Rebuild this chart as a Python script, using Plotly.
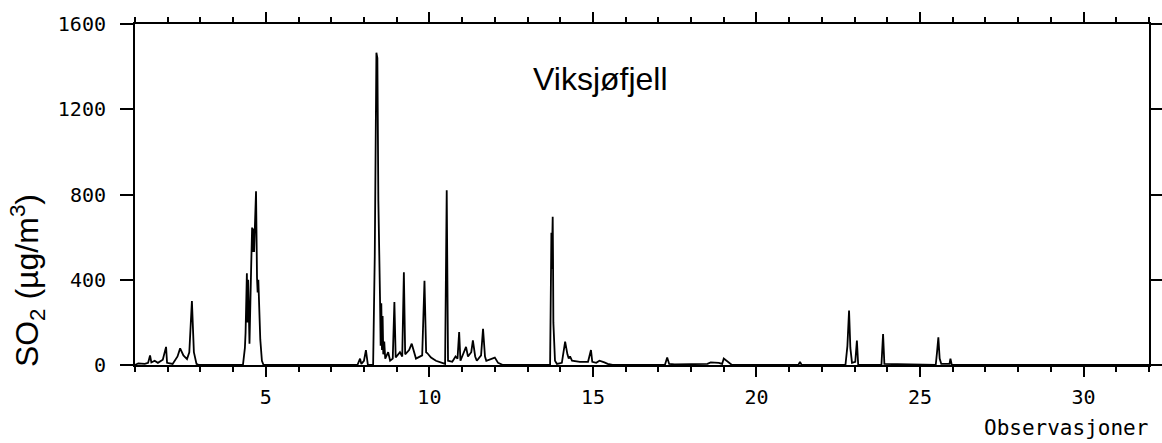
import plotly.graph_objects as go

observasjon = [
    1.00, 1.10, 1.30, 1.40, 1.46, 1.50, 1.60, 1.70, 1.85, 1.95, 1.98, 2.15,
    2.30, 2.38, 2.48, 2.59, 2.66, 2.74, 2.80, 2.88, 2.95,
    4.30, 4.36, 4.38, 4.42, 4.44, 4.46, 4.50, 4.55, 4.58, 4.60, 4.62, 4.64,
    4.67, 4.70, 4.73, 4.75, 4.77, 4.79, 4.83, 4.88, 4.93,
    7.80, 7.88, 7.92, 8.00, 8.06, 8.12, 8.28, 8.33, 8.38, 8.41, 8.44, 8.47,
    8.49, 8.51, 8.53, 8.55, 8.57, 8.59, 8.62, 8.65, 8.70, 8.74, 8.80, 8.88,
    8.93, 8.97, 9.10, 9.17, 9.22, 9.26, 9.38, 9.46, 9.59, 9.78, 9.85, 9.90,
    9.94, 10.05, 10.20, 10.35, 10.48, 10.53, 10.57, 10.70, 10.80, 10.86,
    10.91, 10.95, 11.00, 11.12, 11.18, 11.28, 11.33, 11.40, 11.45, 11.58,
    11.64, 11.70, 11.74, 11.90, 12.00, 12.10, 12.25,
    13.69, 13.71, 13.73, 13.74, 13.75, 13.76, 13.77, 13.78, 13.79, 13.84,
    13.90, 14.05, 14.15, 14.22, 14.26, 14.30, 14.36, 14.60, 14.85, 14.94,
    14.98, 15.10, 15.20, 15.35, 15.45, 15.60,
    17.20, 17.27, 17.33, 17.50, 18.50, 18.60, 18.85, 18.95, 19.00, 19.25,
    21.28, 21.33, 21.38,
    22.72, 22.78, 22.83, 22.87, 22.92, 23.02, 23.07, 23.11,
    23.82, 23.87, 23.91,
    25.48, 25.52, 25.56, 25.60, 25.65, 25.90, 25.93, 25.97, 32.00,
]
so2 = [
    0, 8, 5, 10, 45, 12, 20, 10, 25, 85, 10, 5,
    40, 78, 45, 28, 60, 300, 60, 5, 0,
    0, 80, 150, 430, 200, 400, 100, 450, 645, 530, 640, 530,
    650, 815, 410, 340, 400, 295, 120, 20, 0,
    0, 30, 5, 20, 70, 0, 0, 510, 1465, 1440, 770, 320,
    320, 90, 290, 70, 230, 50, 110, 30, 45, 60, 20, 30,
    295, 35, 60, 40, 435, 50, 70, 100, 30, 45, 395, 60,
    55, 35, 20, 10, 5, 820, 20, 15, 40, 30,
    155, 20, 40, 85, 40, 60, 115, 40, 20, 45,
    170, 40, 20, 30, 35, 10, 0,
    0, 200, 620, 450, 640, 520, 695, 500, 200, 20,
    5, 10, 110, 50, 30, 40, 20, 15, 15, 70,
    15, 10, 20, 12, 5, 0,
    0, 35, 5, 3, 5, 12, 10, 5, 30, 0,
    0, 15, 0,
    0, 90, 255, 80, 10, 15, 115, 0,
    0, 145, 5,
    0, 60, 130, 30, 5, 5, 30, 0, 0,
]

y_ticks = [0, 400, 800, 1200, 1600]
x_ticks = [5, 10, 15, 20, 25, 30]

tick_font = dict(family="DejaVu Sans Mono", size=20, color="black")

fig = go.Figure()
fig.add_trace(go.Scatter(x=observasjon, y=so2, mode="lines",
                         line=dict(color="black", width=1.8), showlegend=False))

fig.update_xaxes(range=[1, 32], tickvals=x_ticks, ticks="outside", ticklen=10,
                 tickwidth=1.5, tickcolor="black", showline=True, linecolor="black",
                 linewidth=2, mirror="ticks", showgrid=False, zeroline=False,
                 tickfont=tick_font, ticklabelstandoff=3, automargin=False,
                 minor=dict(dtick=1, tick0=0, ticks="outside", ticklen=5,
                            tickwidth=1.5, tickcolor="black", showgrid=False))
fig.update_yaxes(range=[0, 1600], tickvals=y_ticks, ticks="outside", ticklen=13,
                 tickwidth=1.5, tickcolor="black", showline=True, linecolor="black",
                 linewidth=2, mirror="ticks", showgrid=False, zeroline=False,
                 tickfont=tick_font, ticklabelstandoff=10, automargin=False)

fig.add_annotation(text="Viksjøfjell", xref="paper", yref="paper", x=0.4586, y=0.839,
                   xanchor="center", yanchor="middle", showarrow=False,
                   font=dict(family="Liberation Sans", size=32, color="black"))
fig.add_annotation(text="SO<sub>2</sub> (µg/m<sup>3</sup>)", xref="paper", yref="paper",
                   x=-0.1065, y=0.246, xanchor="center", yanchor="middle",
                   textangle=-90, showarrow=False,
                   font=dict(family="Liberation Sans", size=32, color="black"))
fig.add_annotation(text="Observasjoner", xref="paper", yref="paper", x=1.001, y=-0.185,
                   xanchor="right", yanchor="middle", showarrow=False,
                   font=dict(family="DejaVu Sans Mono", size=21, color="black"))

fig.update_layout(width=1162, height=443, plot_bgcolor="white", paper_bgcolor="white",
                  margin=dict(l=135, r=13, t=24, b=78))
# the page's default body margin would push the fixed-size figure out of the window
fig.write_html("out.html", config={"displayModeBar": False},
               post_script="document.body.style.margin = '0px';")
